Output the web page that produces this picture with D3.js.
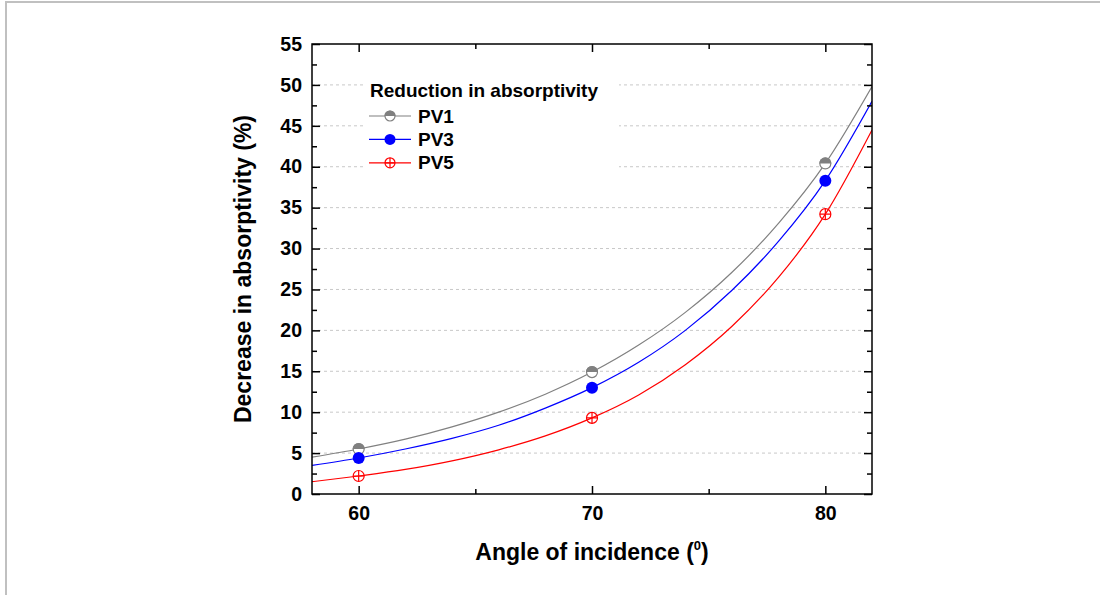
<!DOCTYPE html>
<html>
<head>
<meta charset="utf-8">
<script src="https://cdn.jsdelivr.net/npm/d3@7"></script>
<style>
  body { margin: 0; background: #fff; }
  text { font-family: Arial, "Liberation Sans", sans-serif; font-weight: bold; }
</style>
</head>
<body>
<div id="chart"></div>
<script>
// Measured points
const angles = [60, 70, 80];
const pv1 = [5.5, 14.9, 40.4];
const pv3 = [4.4, 13.0, 38.3];
const pv5 = [2.2, 9.3, 34.2];

// Fitted curves
const fitAngles = [58, 60, 62, 64, 66, 68, 70, 72, 74, 76, 78, 80, 82];
const pv1Fit = [4.5, 5.5, 6.7, 8.2, 10.0, 12.2, 14.9, 18.2, 22.2, 27.1, 33.1, 40.4, 49.8];
const pv3Fit = [3.5, 4.4, 5.5, 6.8, 8.4, 10.5, 13.0, 16.1, 20.0, 24.9, 30.9, 38.3, 48.0];
const pv5Fit = [1.5, 2.2, 3.0, 4.05, 5.4, 7.1, 9.3, 12.1, 15.8, 20.5, 26.5, 34.2, 44.5];

const xTicks = [60, 70, 80];
const yTicks = [0, 5, 10, 15, 20, 25, 30, 35, 40, 45, 50, 55];

const series = [
    { name: "PV1", pts: pv1, fit: pv1Fit, color: "#808080", marker: "half" },
    { name: "PV3", pts: pv3, fit: pv3Fit, color: "#0000ff", marker: "filled" },
    { name: "PV5", pts: pv5, fit: pv5Fit, color: "#ff0000", marker: "cross" }
];

const W = 1100, H = 595;
const margin = { top: 44, right: 228, bottom: 101, left: 312 },
    width = W - margin.left - margin.right,
    height = H - margin.top - margin.bottom;

const tickFont = 19.5, legendFont = 19, titleFont = 23;

const svg = d3.select("#chart").append("svg")
    .attr("width", W)
    .attr("height", H);

// page frame (left and top edges only)
svg.append("path")
    .attr("d", `M6,${H} V2 H${W}`)
    .attr("fill", "none")
    .attr("stroke", "#c0c0c0")
    .attr("stroke-width", 2);

const g = svg.append("g")
    .attr("transform", "translate(" + margin.left + "," + margin.top + ")");

const x = d3.scaleLinear().domain([58, 82]).range([0, width]);
const y = d3.scaleLinear().domain([0, 55]).range([height, 0]);

// grid lines
g.append("g")
    .selectAll("line")
    .data(yTicks.filter(d => d > 0 && d < 55))
    .enter()
    .append("line")
    .attr("x1", 0)
    .attr("x2", width)
    .attr("y1", d => y(d))
    .attr("y2", d => y(d))
    .attr("stroke", "#c8c8c8")
    .attr("stroke-width", 1)
    .attr("stroke-dasharray", "3,3");

// legend background hides grid
g.append("rect")
    .attr("x", 52).attr("y", 30)
    .attr("width", 255).attr("height", 104)
    .attr("fill", "#fff");

// curves
g.append("clipPath").attr("id", "clip")
    .append("rect").attr("width", width).attr("height", height);

const line = d3.line()
    .x((d, i) => x(fitAngles[i]))
    .y(d => y(d))
    .curve(d3.curveMonotoneX);

series.forEach(s => {
    g.append("path")
        .datum(s.fit)
        .attr("clip-path", "url(#clip)")
        .attr("fill", "none")
        .attr("stroke", s.color)
        .attr("stroke-width", 1.2)
        .attr("d", line);
});

function drawMarker(sel, s, r) {
    if (s.marker === "filled") {
        sel.append("circle").attr("r", r).attr("fill", s.color);
    } else if (s.marker === "half") {
        sel.append("circle").attr("r", r - 0.5).attr("fill", "#fff")
            .attr("stroke", s.color).attr("stroke-width", 1.2);
        sel.append("path")
            .attr("d", `M${-r},0 A${r},${r} 0 0 1 ${r},0 Z`)
            .attr("fill", s.color);
    } else {
        sel.append("circle").attr("r", r - 0.5).attr("fill", "none")
            .attr("stroke", s.color).attr("stroke-width", 1.2);
        sel.append("path")
            .attr("d", `M${-r + 0.5},0 H${r - 0.5} M0,${-r + 0.5} V${r - 0.5}`)
            .attr("stroke", s.color).attr("stroke-width", 1.2);
    }
}

series.forEach(s => {
    s.pts.forEach((v, i) => {
        const m = g.append("g")
            .attr("transform", `translate(${x(angles[i])},${y(v)})`);
        drawMarker(m, s, 6);
    });
});

// axes with inward ticks
const axisStyle = sel => {
    sel.select(".domain").remove();
    sel.selectAll("line").attr("stroke", "#000").attr("stroke-width", 1.5);
};

const xMinor = [65, 75];
const yMinor = d3.range(2.5, 55, 5);

// bottom
const axBottom = g.append("g").attr("transform", "translate(0," + height + ")");
axBottom.call(d3.axisBottom(x).tickValues(xTicks).tickSize(-8).tickPadding(12).tickFormat(d3.format("d")))
    .call(axisStyle);
axBottom.selectAll("text").attr("font-size", tickFont).attr("fill", "#000")
    .attr("font-family", "Arial, 'Liberation Sans', sans-serif").attr("font-weight", "bold");
axBottom.append("g").call(d3.axisBottom(x).tickValues(xMinor).tickSize(-5).tickFormat(""))
    .call(axisStyle);

// top
const axTop = g.append("g");
axTop.call(d3.axisTop(x).tickValues(xTicks).tickSize(-8).tickFormat("")).call(axisStyle);
axTop.append("g").call(d3.axisTop(x).tickValues(xMinor).tickSize(-5).tickFormat("")).call(axisStyle);

// left
const axLeft = g.append("g");
axLeft.call(d3.axisLeft(y).tickValues(yTicks).tickSize(-8).tickPadding(10).tickFormat(d3.format("d")))
    .call(axisStyle);
axLeft.selectAll("text").attr("font-size", tickFont).attr("fill", "#000")
    .attr("font-family", "Arial, 'Liberation Sans', sans-serif").attr("font-weight", "bold");
axLeft.append("g").call(d3.axisLeft(y).tickValues(yMinor).tickSize(-5).tickFormat(""))
    .call(axisStyle);

// right
const axRight = g.append("g").attr("transform", "translate(" + width + ",0)");
axRight.call(d3.axisRight(y).tickValues(yTicks).tickSize(-8).tickFormat("")).call(axisStyle);
axRight.append("g").call(d3.axisRight(y).tickValues(yMinor).tickSize(-5).tickFormat("")).call(axisStyle);

// frame
g.append("rect")
    .attr("width", width).attr("height", height)
    .attr("fill", "none")
    .attr("stroke", "#000")
    .attr("stroke-width", 1.5);

// axis titles
const xTitle = svg.append("text")
    .attr("x", margin.left + width / 2)
    .attr("y", 560)
    .attr("text-anchor", "middle")
    .attr("font-size", titleFont);
xTitle.append("tspan").text("Angle of incidence (");
xTitle.append("tspan").attr("font-size", 13).attr("dy", -10).text("0");
xTitle.append("tspan").attr("dy", 10).text(")");

svg.append("text")
    .attr("transform", `translate(251,${margin.top + height / 2}) rotate(-90)`)
    .attr("text-anchor", "middle")
    .attr("font-size", titleFont)
    .text("Decrease in absorptivity (%)");

// legend
const legend = g.append("g").attr("transform", "translate(57,0)");
legend.append("text")
    .attr("x", 1).attr("y", 53)
    .attr("font-size", legendFont)
    .text("Reduction in absorptivity");

series.forEach((s, i) => {
    const row = legend.append("g").attr("transform", `translate(0,${72 + i * 23.4})`);
    row.append("line")
        .attr("x1", 0).attr("x2", 42)
        .attr("stroke", s.color).attr("stroke-width", 1.2);
    const m = row.append("g").attr("transform", "translate(21,0)");
    drawMarker(m, s, 5.5);
    row.append("text")
        .attr("x", 49).attr("y", 6.5)
        .attr("font-size", legendFont)
        .text(s.name);
});
</script>
</body>
</html>
